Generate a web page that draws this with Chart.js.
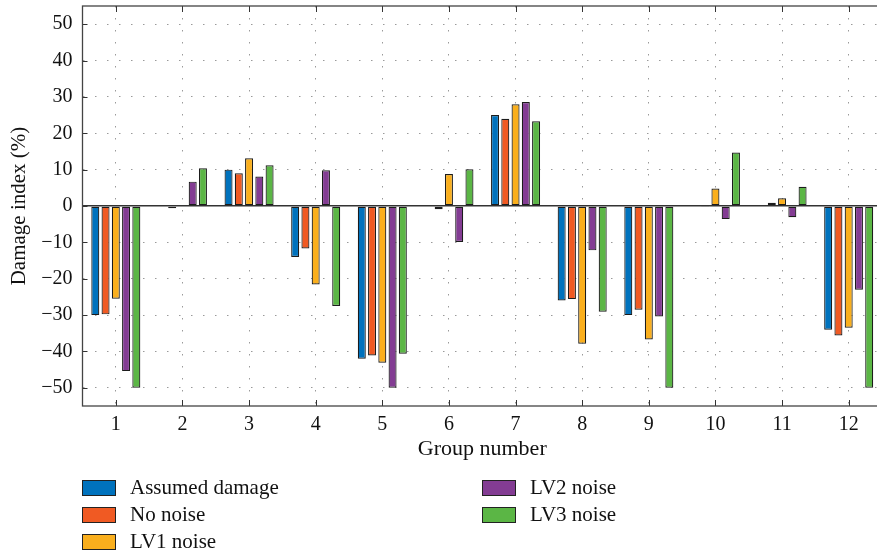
<!DOCTYPE html>
<html>
<head>
<meta charset="utf-8">
<script src="https://cdn.jsdelivr.net/npm/chart.js@4"></script>
<style>
  html, body { margin: 0; padding: 0; background: #fff; overflow: hidden; }
  #wrap { position: relative; width: 877px; height: 556px; overflow: hidden; }
  #chart { position: absolute; left: 0; top: 0; }
  .lg { position: absolute; font-family: "Liberation Serif", serif; font-size: 21px; color: #111; line-height: 20px; }
  .lg span.box { position: absolute; left: 0; top: 2px; width: 32px; height: 14px; border: 1px solid #222; }
  .lg span.txt { position: absolute; left: 48px; top: -1px; white-space: nowrap; }
</style>
</head>
<body>
<div id="wrap">
  <canvas id="chart" width="884" height="556"></canvas>
  <div id="legend"></div>
</div>
<script>
// Damage index per group //

const groups = ['1', '2', '3', '4', '5', '6', '7', '8', '9', '10', '11', '12'];
const assumedDamage = [-30, 0, 10, -14, -42, 0, 25, -26, -30, 0, 0, -34];
const noNoise = [-29.8, -0.6, 9.0, -11.7, -41.1, -0.9, 24.0, -25.6, -28.5, -0.3, 0.9, -35.6];
const lv1Noise = [-25.5, 0, 13.1, -21.6, -43.1, 8.8, 28.0, -37.9, -36.7, 4.8, 2.1, -33.5];
const lv2Noise = [-45.4, 6.7, 8.1, 9.8, -50, -9.9, 28.6, -12.2, -30.4, -3.6, -3.1, -23.0];
const lv3Noise = [-50, 10.4, 11.2, -27.5, -40.6, 10.1, 23.3, -29.1, -50, 14.7, 5.3, -50];
const yTicks = [-50, -40, -30, -20, -10, 0, 10, 20, 30, 40, 50];

const serif = '"Liberation Serif", serif';

function ds(label, data, color) {
    return {
        label: label,
        data: data,
        backgroundColor: color,
        borderColor: '#1c1c1c',
        borderWidth: 1.2,
        borderSkipped: false,
        categoryPercentage: 0.77,
        barPercentage: 0.78
    };
}

// frame + inward ticks like matlab
const framePlugin = {
    id: 'frame',
    afterDatasetsDraw(chart) {
        const { ctx, chartArea: a, scales } = chart;
        ctx.save();
        ctx.strokeStyle = '#333';
        ctx.lineWidth = 1;
        ctx.beginPath();
        scales.y.ticks.forEach((t, i) => {
            const y = Math.round(scales.y.getPixelForTick(i)) + 0.5;
            ctx.moveTo(a.left, y); ctx.lineTo(a.left + 5, y);
            ctx.moveTo(a.right, y); ctx.lineTo(a.right - 5, y);
        });
        scales.x.ticks.forEach((t, i) => {
            const x = Math.round(scales.x.getPixelForTick(i)) + 0.5;
            ctx.moveTo(x, a.bottom); ctx.lineTo(x, a.bottom - 6);
            ctx.moveTo(x, a.top); ctx.lineTo(x, a.top + 6);
        });
        ctx.stroke();
        ctx.strokeStyle = '#444';
        ctx.lineWidth = 1.3;
        ctx.strokeRect(a.left, a.top, a.right - a.left, a.bottom - a.top);
        ctx.restore();
    }
};

const chart = new Chart(document.getElementById('chart').getContext('2d'), {
    type: 'bar',
    data: {
        labels: groups,
        datasets: [
            ds('Assumed damage', assumedDamage, '#0072BD'),
            ds('No noise', noNoise, '#F05A23'),
            ds('LV1 noise', lv1Noise, '#FAAF1D'),
            ds('LV2 noise', lv2Noise, '#833C93'),
            ds('LV3 noise', lv3Noise, '#5BB645')
        ]
    },
    options: {
        responsive: false,
        animation: false,
        layout: { padding: { top: 6, right: 2, bottom: 90, left: 0 } },
        plugins: {
            legend: { display: false },
            tooltip: { enabled: false }
        },
        scales: {
            x: {
                offset: true,
                grid: {
                    offset: false,
                    drawTicks: false,
                    color: '#9a9a9a',
                    lineWidth: 1
                },
                border: { display: false, dash: [1.5, 10.5] },
                ticks: {
                    padding: 7,
                    color: '#111',
                    font: { family: serif, size: 20 }
                },
                title: {
                    display: true,
                    text: 'Group number',
                    color: '#111',
                    font: { family: serif, size: 22 },
                    padding: { top: 0, bottom: 4 }
                },
                afterFit: s => { s.height = 60; s.paddingLeft = 0; s.paddingRight = 0; }
            },
            y: {
                min: -55,
                max: 55,
                afterBuildTicks: s => { s.ticks = yTicks.map(v => ({ value: v })); },
                grid: {
                    drawTicks: false,
                    color: c => c.tick && c.tick.value === 0 ? '#333' : '#9a9a9a',
                    lineWidth: c => c.tick && c.tick.value === 0 ? 1.6 : 1
                },
                border: {
                    display: false,
                    dash: c => c.tick && c.tick.value === 0 ? [] : [1.5, 10.5]
                },
                ticks: {
                    padding: 10,
                    color: '#111',
                    font: { family: serif, size: 20 },
                    callback: v => String(v).replace('-', '\u2212')
                },
                title: {
                    display: true,
                    text: 'Damage index (%)',
                    color: '#111',
                    font: { family: serif, size: 21 },
                    padding: { top: 7, bottom: 0 }
                },
                afterFit: s => { s.width = 82.5; s.paddingTop = 0; s.paddingBottom = 0; }
            }
        }
    },
    plugins: [framePlugin]
});

// legend, two columns like the original
const legendPos = [[82, 478], [82, 505], [82, 532], [482, 478], [482, 505]];
const legendBox = document.getElementById('legend');
chart.data.datasets.forEach((d, i) => {
    const el = document.createElement('div');
    el.className = 'lg';
    el.style.left = legendPos[i][0] + 'px';
    el.style.top = legendPos[i][1] + 'px';
    el.innerHTML = '<span class="box" style="background:' + d.backgroundColor + '"></span><span class="txt">' + d.label + '</span>';
    legendBox.appendChild(el);
});
</script>
</body>
</html>
